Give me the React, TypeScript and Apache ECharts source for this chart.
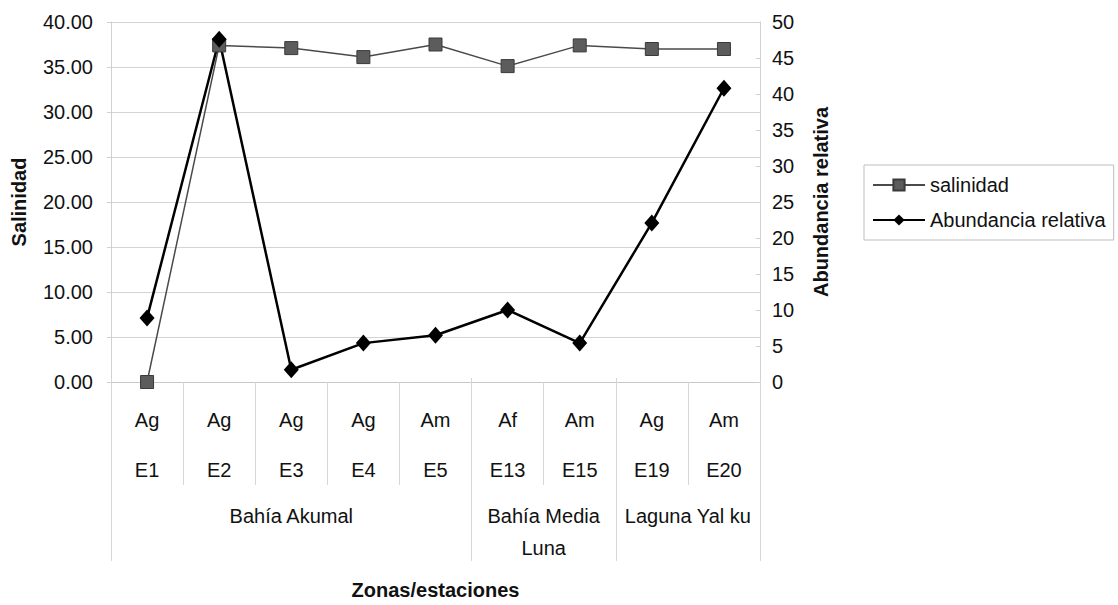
import React, { useEffect, useRef } from "react";
import * as echarts from "echarts";

const stations = ["E1", "E2", "E3", "E4", "E5", "E13", "E15", "E19", "E20"];
const species = ["Ag", "Ag", "Ag", "Ag", "Am", "Af", "Am", "Ag", "Am"];
const groupNames = ["Bahía Akumal", "Bahía Media\nLuna", "Laguna Yal ku"];
const groupSpans = [5, 2, 2];
const salinidad = [0, 37.4, 37.1, 36.1, 37.5, 35.1, 37.4, 37.0, 37.0];
const abundancia = [8.9, 47.6, 1.7, 5.4, 6.5, 10.0, 5.4, 22.1, 40.8];
const leftTicks = { min: 0, max: 40, interval: 5 };
const rightTicks = { min: 0, max: 50, interval: 5 };

const FONT = "'Liberation Sans', Arial, sans-serif";

export default function App() {
  const ref = useRef<HTMLDivElement>(null);
  useEffect(() => {
    if (!ref.current) return;
    const chart = echarts.init(ref.current, undefined, { renderer: "svg" });

    const bounds: number[] = [0];
    groupSpans.forEach((s, i) => bounds.push(bounds[i] + s));
    const centers = groupSpans.map((s, i) => bounds[i] + s / 2);

    const gridPos = { left: 111, right: 358, top: 22, bottom: 223 };
    const txt = { fontFamily: FONT, color: "#111" };

    chart.setOption({
      animation: false,
      textStyle: { fontFamily: FONT },
      grid: [
        { ...gridPos, containLabel: false },
        { ...gridPos, containLabel: false },
      ],
      legend: {
        orient: "vertical",
        left: 864,
        top: 165,
        padding: [10, 8, 10, 8],
        itemGap: 15,
        itemWidth: 52,
        itemHeight: 14,
        borderColor: "#bdbdbd",
        borderWidth: 1,
        textStyle: { ...txt, fontSize: 20 },
        data: ["salinidad", "Abundancia relativa"],
      },
      xAxis: [
        {
          type: "category",
          gridIndex: 0,
          data: stations,
          boundaryGap: true,
          axisLine: { show: true, lineStyle: { color: "#c8c8c8", width: 1 } },
          axisTick: { show: true, interval: 0, length: 103, lineStyle: { color: "#d6d6d6" } },
          axisLabel: {
            interval: 0,
            margin: 13,
            formatter: (v: string, i: number) => `{a|${species[i]}}\n{a|${v}}`,
            rich: { a: { ...txt, fontSize: 20, lineHeight: 50 } },
          },
          splitLine: { show: false },
        },
        {
          type: "value",
          gridIndex: 1,
          min: 0,
          max: bounds[bounds.length - 1],
          position: "bottom",
          axisLine: { show: false },
          axisTick: { show: true, customValues: bounds, length: 183, lineStyle: { color: "#d6d6d6" } },
          axisLabel: {
            customValues: centers,
            margin: 122,
            formatter: (v: number) => {
              const idx = centers.findIndex((c) => Math.abs(c - v) < 1e-6);
              return idx >= 0 ? groupNames[idx] : "";
            },
            ...txt,
            fontSize: 20,
            lineHeight: 32,
          },
          splitLine: { show: false },
          name: "Zonas/estaciones",
          nameLocation: "middle",
          nameGap: 202,
          nameTextStyle: { ...txt, fontSize: 20, fontWeight: "bold" },
        },
      ],
      yAxis: [
        {
          type: "value",
          gridIndex: 0,
          position: "left",
          ...leftTicks,
          axisLine: { show: true, lineStyle: { color: "#d0d0d0" } },
          axisTick: { show: true, length: 4, lineStyle: { color: "#d0d0d0" } },
          axisLabel: { ...txt, fontSize: 20, margin: 18, formatter: (v: number) => v.toFixed(2) },
          splitLine: { show: true, lineStyle: { color: "#d4d4d4", width: 1 } },
          name: "Salinidad",
          nameLocation: "middle",
          nameGap: 82,
          nameTextStyle: { ...txt, fontSize: 20, fontWeight: "bold" },
        },
        {
          type: "value",
          gridIndex: 0,
          position: "right",
          ...rightTicks,
          axisLine: { show: true, lineStyle: { color: "#d0d0d0" } },
          axisTick: { show: true, inside: true, length: 4, lineStyle: { color: "#d0d0d0" } },
          axisLabel: { ...txt, fontSize: 20, margin: 12 },
          splitLine: { show: false },
          name: "Abundancia relativa",
          nameLocation: "middle",
          nameGap: 51,
          nameTextStyle: { ...txt, fontSize: 20, fontWeight: "bold" },
        },
        {
          type: "value",
          gridIndex: 1,
          min: 0,
          max: 1,
          show: false,
        },
      ],
      series: [
        {
          name: "salinidad",
          type: "line",
          xAxisIndex: 0,
          yAxisIndex: 0,
          data: salinidad,
          symbol: "rect",
          symbolSize: 13,
          lineStyle: { color: "#4a4a4a", width: 1.5 },
          itemStyle: { color: "#5c5c5c", borderColor: "#3a3a3a", borderWidth: 1 },
        },
        {
          name: "Abundancia relativa",
          type: "line",
          xAxisIndex: 0,
          yAxisIndex: 1,
          data: abundancia,
          symbol: "diamond",
          symbolSize: [15, 17],
          lineStyle: { color: "#000", width: 2.5 },
          itemStyle: { color: "#000" },
        },
      ],
    });
    return () => chart.dispose();
  }, []);

  return (
    <div
      ref={ref}
      style={{ position: "absolute", left: 0, top: 0, width: 1118, height: 605 }}
    />
  );
}
